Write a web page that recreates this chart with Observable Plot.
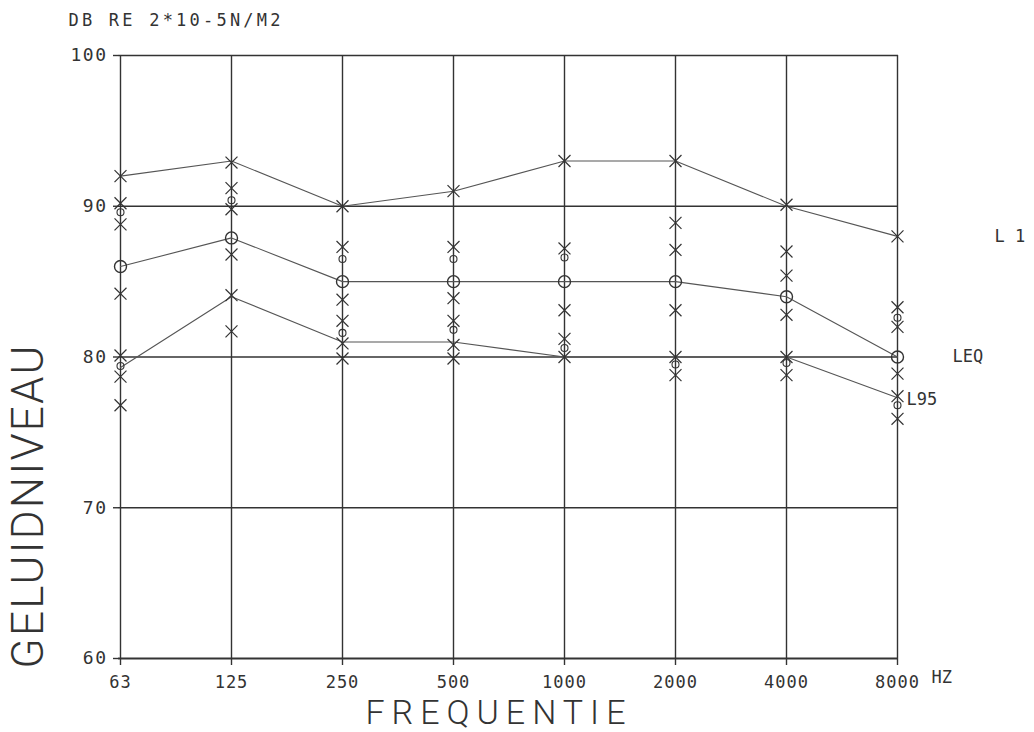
<!DOCTYPE html>
<html><head><meta charset="utf-8">
<script src="https://cdn.jsdelivr.net/npm/d3@7"></script>
<script src="https://cdn.jsdelivr.net/npm/@observablehq/plot@0.6"></script>
<style>body{margin:0;background:#fff}</style>
</head><body><div id="chart"></div>
<script>
// ---- data ----
const frequencies = ["63","125","250","500","1000","2000","4000","8000"];
const yTicks = [60,70,80,90,100];
const gridLevels = [70,80,90,100];
const l1 = [92,93,90,91,93,93,90,88];
const leq = [86,87.9,85,85,85,85,84,80];
const l95 = [79.3,84,81,81,80,80,80,77.3];
const crossLevels = [
  [92,90.2,88.8,84.2,80.1,78.7,76.8],
  [92.9,91.2,89.8,86.8,84.1,81.7],
  [90,87.3,83.8,82.4,80.9,79.9],
  [91,87.3,83.9,82.4,80.8,79.9],
  [93,87.2,83.1,81.2,80],
  [93,88.9,87.1,83.1,80,78.8],
  [90.1,87,85.4,82.8,80,78.8],
  [88,83.3,82,78.9,77.4,75.9]
];
const smallCircleLevels = [[89.6,79.4],[90.4],[86.5,81.6],[86.5,81.8],[86.6,80.6],[79.5],[79.6],[82.6,76.8]];
const seriesNames = ["L 1","LEQ","L95"];
const titleText = "DB RE 2*10-5N/M2";
const xTitle = "FREQUENTIE";
const yTitle = "GELUIDNIVEAU";
const unitText = "HZ";

// ---- tables ----
const seriesValues = [l1, leq, l95];
const lineRows = seriesNames.flatMap((s, k) => frequencies.map((f, i) => ({s, f, v: seriesValues[k][i]})));
const crossRows = frequencies.flatMap((f, i) => crossLevels[i].map(v => ({f, v})));
const smallRows = frequencies.flatMap((f, i) => smallCircleLevels[i].map(v => ({f, v})));
const leqRows = frequencies.map((f, i) => ({f, v: leq[i]}));
const last = frequencies.length - 1;
const endRows = seriesNames.map((s, k) => ({s, f: frequencies[last], v: seriesValues[k][last]}));

const ink = "#333";
const mono = "'DejaVu Sans Mono', monospace";
const light = "Roboto, 'DejaVu Sans', sans-serif";

const plot = Plot.plot({
  width: 1034, height: 732,
  marginLeft: 118, marginRight: 136, marginTop: 55, marginBottom: 74,
  style: {fontFamily: mono, color: ink, background: "#fff"},
  x: {type: "point", domain: frequencies, padding: 0},
  y: {domain: [60, 100]},
  marks: [
    Plot.ruleY(gridLevels, {stroke: ink, strokeWidth: 1.4}),
    Plot.ruleY([60], {stroke: ink, strokeWidth: 1.8}),
    Plot.ruleX(frequencies, {x: d => d, y1: 60, y2: 100, stroke: ink, strokeWidth: 1.4}),
    Plot.axisX({tickSize: 7, tickPadding: 10, fontSize: 17, label: null, strokeWidth: 1.4}),
    Plot.axisY({ticks: yTicks, tickSize: 5, tickPadding: 6, fontSize: 18, label: null, strokeWidth: 1.4}),
    Plot.line(lineRows, {x: "f", y: "v", z: "s", stroke: "#555", strokeWidth: 1.1}),
    Plot.dot(crossRows, {x: "f", y: "v", symbol: "times", r: 5.5, stroke: ink, strokeWidth: 1.2}),
    Plot.dot(smallRows, {x: "f", y: "v", r: 3.5, stroke: ink, strokeWidth: 1.1}),
    Plot.dot(leqRows, {x: "f", y: "v", r: 6, stroke: ink, strokeWidth: 1.4}),
    Plot.text([endRows[0]], {x: "f", y: "v", text: "s", dx: 97, textAnchor: "start", lineAnchor: "middle", fontSize: 17}),
    Plot.text([endRows[1]], {x: "f", y: "v", text: "s", dx: 55, textAnchor: "start", lineAnchor: "middle", fontSize: 17}),
    Plot.text([endRows[2]], {x: "f", y: "v", text: "s", dx: 9, dy: 2, textAnchor: "start", lineAnchor: "middle", fontSize: 17}),
    Plot.text([unitText], {frameAnchor: "bottom-right", dx: 33, dy: 19, textAnchor: "start", lineAnchor: "middle", fontSize: 17}),
    Plot.text([titleText], {frameAnchor: "top-left", dx: -50, dy: -35, textAnchor: "start", lineAnchor: "middle", fontSize: 17}),
    Plot.text([xTitle], {frameAnchor: "bottom", dx: -13, dy: 55, textAnchor: "middle", lineAnchor: "middle", fontSize: 34, fontFamily: light, fontWeight: 300}),
    Plot.text([yTitle], {frameAnchor: "left", dx: -90, dy: 150, rotate: -90, textAnchor: "middle", lineAnchor: "middle", fontSize: 44, fontFamily: light, fontWeight: 300})
  ]
});
document.getElementById("chart").appendChild(plot);

// letter spacing / widths to match the plotter lettering
const svg = d3.select(plot);
const fits = {[titleText]: 212, [xTitle]: 260, [yTitle]: 323};
svg.selectAll("text").each(function() {
  const t = this.textContent;
  if (fits[t]) d3.select(this).attr("textLength", fits[t]).attr("lengthAdjust", "spacing");
});
svg.selectAll('g[aria-label="x-axis tick label"] text').style("letter-spacing", "1px");
svg.selectAll('g[aria-label="y-axis tick label"] text').style("letter-spacing", "1.5px");
</script>
</body></html>
